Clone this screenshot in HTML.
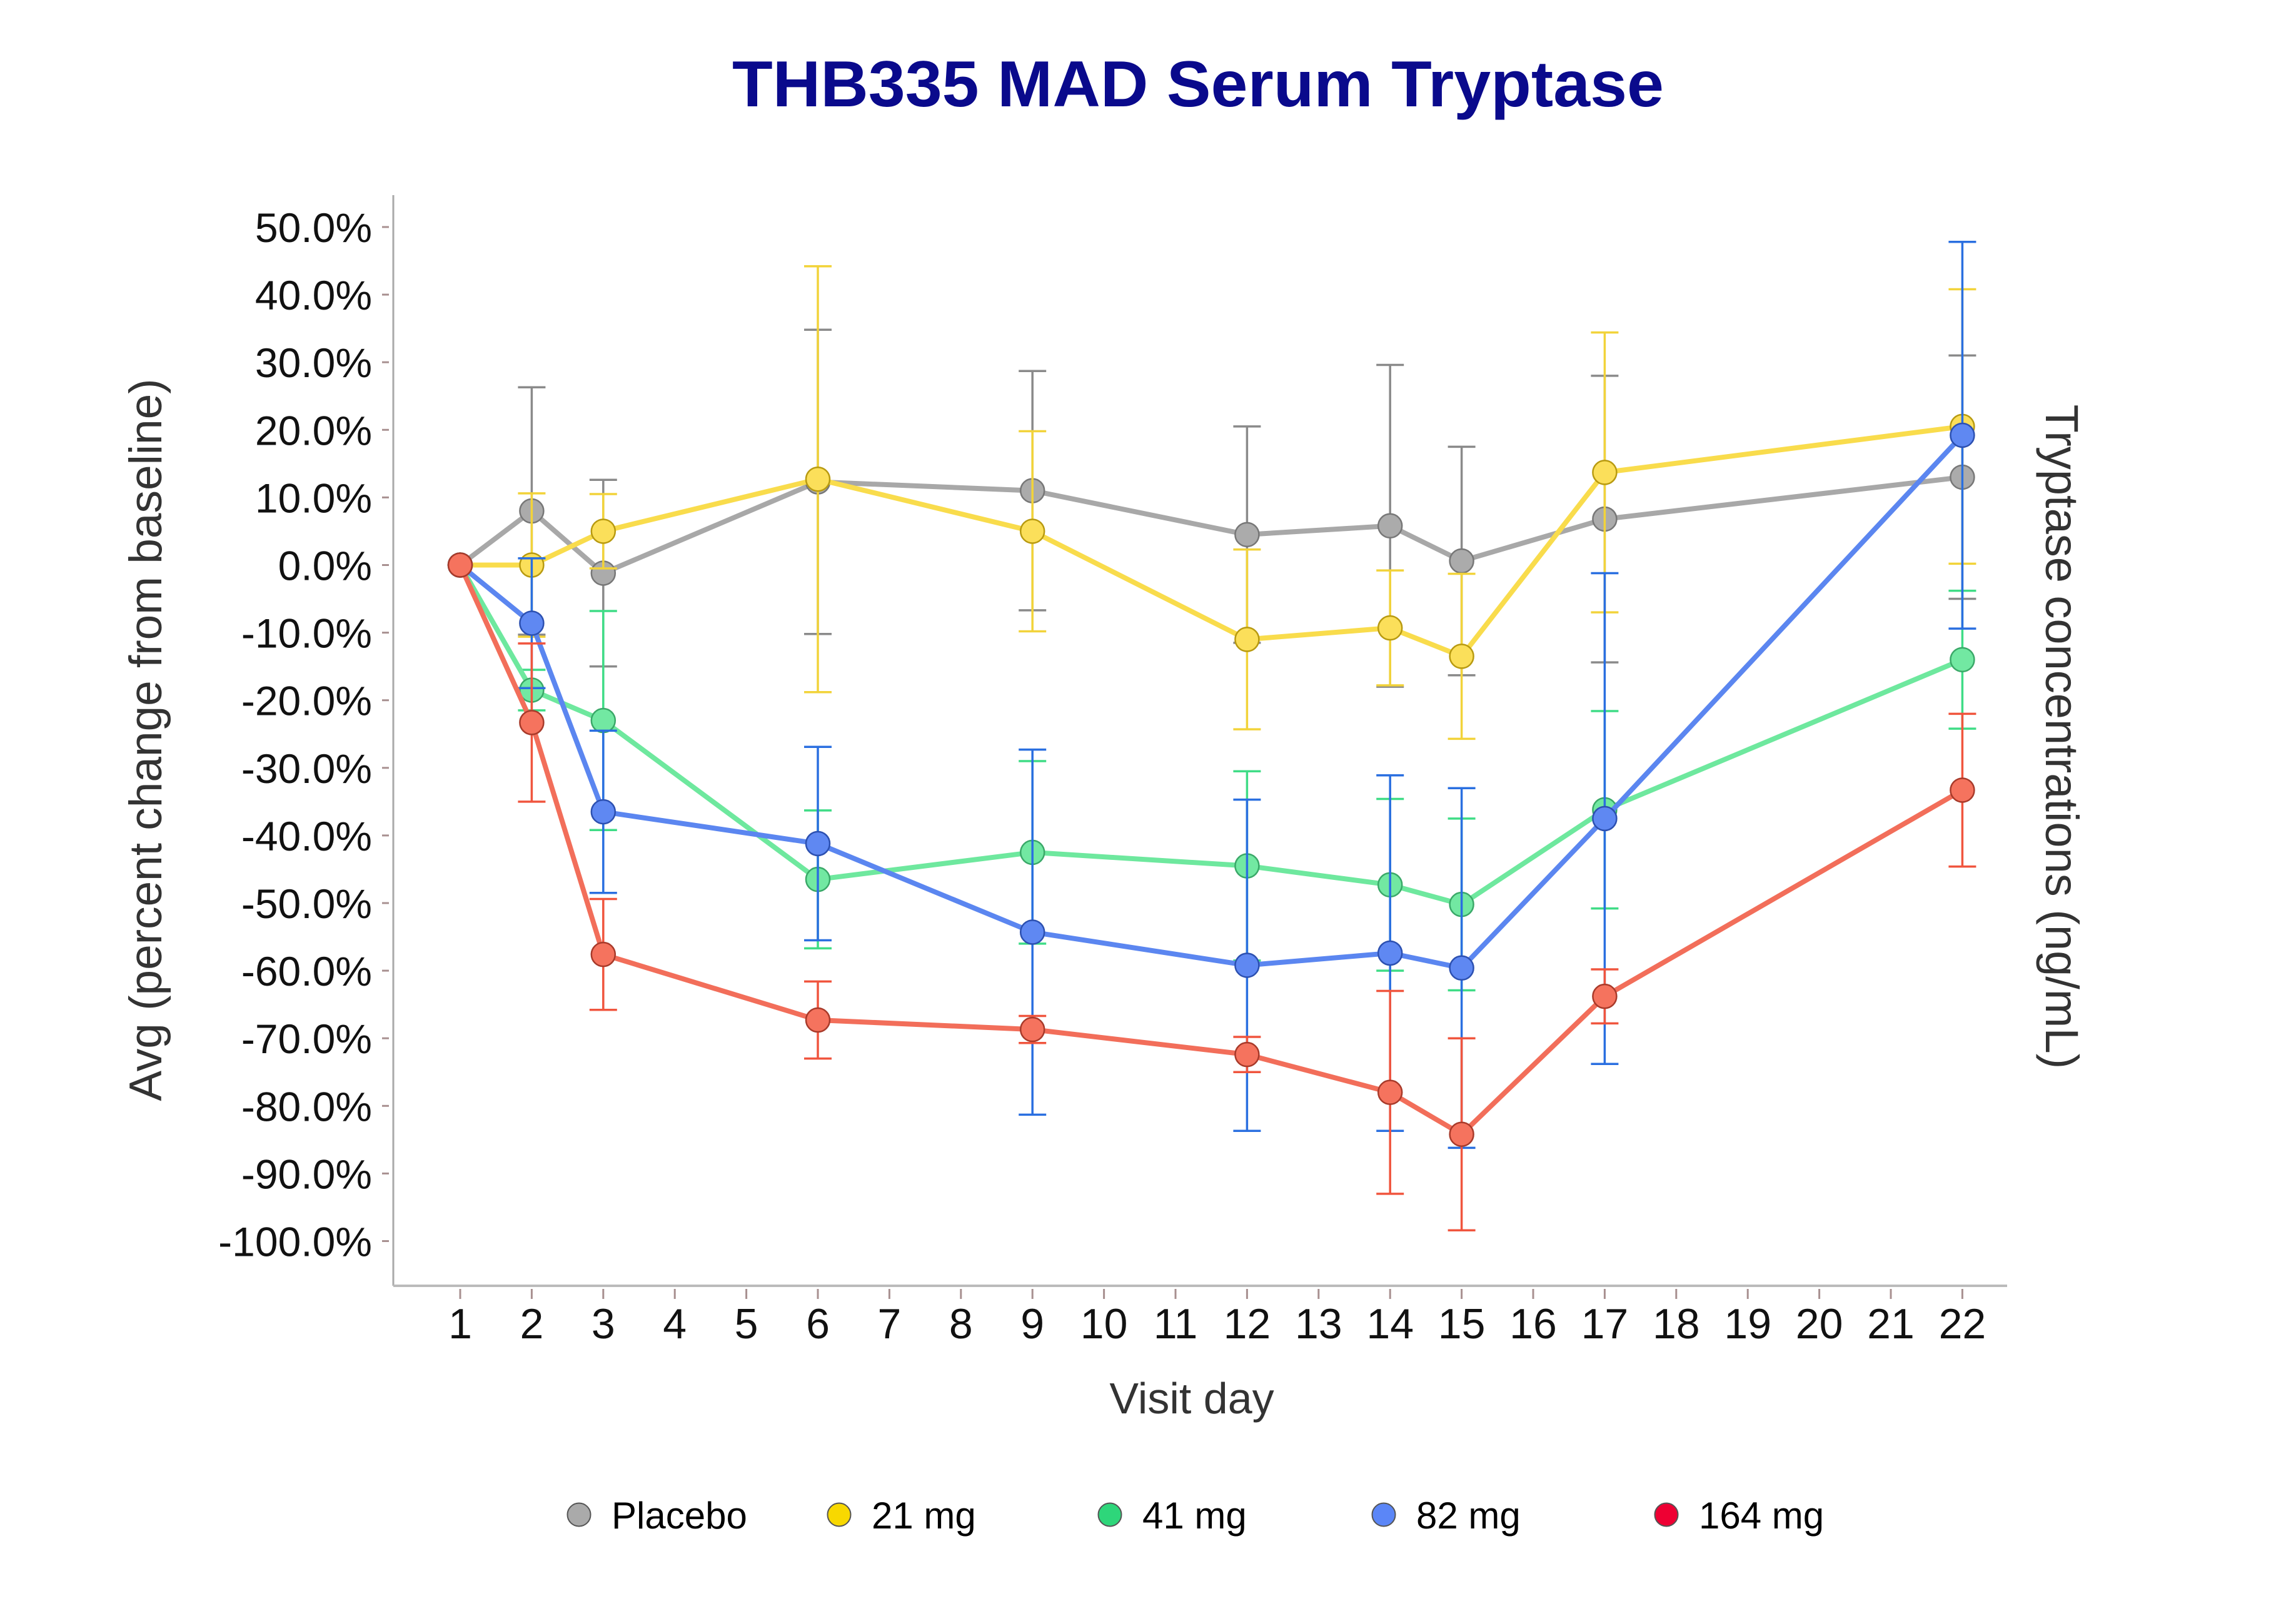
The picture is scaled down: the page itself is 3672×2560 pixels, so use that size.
<!DOCTYPE html>
<html><head><meta charset="utf-8"><style>
html,body{margin:0;padding:0;background:#fff;}
svg{display:block;}
text{font-family:"Liberation Sans",Arial,sans-serif;}
</style></head><body>
<svg id="chart" width="3672" height="2560" viewBox="0 0 3672 2560" xmlns="http://www.w3.org/2000/svg">
<text x="1916" y="170" text-anchor="middle" font-size="104" font-weight="bold" fill="#0a0a8c" textLength="1490" lengthAdjust="spacingAndGlyphs">THB335 MAD Serum Tryptase</text>
<text transform="translate(258,1183) rotate(-90)" text-anchor="middle" font-size="73" fill="#333">Avg (percent change from baseline)</text>
<text transform="translate(3272,1178) rotate(90)" text-anchor="middle" font-size="74" fill="#333">Tryptase concentrations (ng/mL)</text>
<text x="1906" y="2260" text-anchor="middle" font-size="70" fill="#333">Visit day</text>
<line x1="629" y1="312" x2="629" y2="2056" stroke="#aaa" stroke-width="3"/>
<line x1="629" y1="2056" x2="3210" y2="2056" stroke="#bbb" stroke-width="4"/>
<g id="yticks"></g><g id="xticks"></g><g id="series"></g><g id="legend"></g>
</svg>
<script>
const days = [1,2,3,6,9,12,14,15,17,22];
const xTicks = [1,2,3,4,5,6,7,8,9,10,11,12,13,14,15,16,17,18,19,20,21,22];
const yTicks = [50,40,30,20,10,0,-10,-20,-30,-40,-50,-60,-70,-80,-90,-100];
const seriesNames = ["Placebo","21 mg","41 mg","82 mg","164 mg"];
const placebo = [0,8,-1.2,12.3,11,4.5,5.8,0.6,6.8,13];
const placeboErr = [0,18.3,13.8,22.5,17.7,16,23.8,16.9,21.2,18];
const mg21 = [0,0,5,12.7,5,-11,-9.3,-13.5,13.7,20.5];
const mg21Err = [0,10.6,5.5,31.5,14.8,13.3,8.5,12.2,20.7,20.3];
const mg41 = [0,-18.5,-23,-46.5,-42.5,-44.5,-47.3,-50.2,-36.2,-14];
const mg41Err = [0,3,16.2,10.2,13.5,14,12.7,12.7,14.6,10.2];
const mg82 = [0,-8.6,-36.5,-41.2,-54.3,-59.2,-57.4,-59.6,-37.5,19.2];
const mg82Err = [0,9.6,12,14.3,27,24.5,26.3,26.6,36.3,28.6];
const mg164 = [0,-23.3,-57.6,-67.3,-68.7,-72.4,-78,-84.2,-63.8,-33.3];
const mg164Err = [0,11.7,8.2,5.7,2,2.6,15,14.2,4,11.3];

const NS="http://www.w3.org/2000/svg";
function xs(d){return 736+(d-1)*114.4;}
function ys(v){return 903.5-v*10.81;}
function mk(tag,attrs,parent){const e=document.createElementNS(NS,tag);for(const k in attrs)e.setAttribute(k,attrs[k]);parent.appendChild(e);return e;}

const yt=document.getElementById('yticks');
yTicks.forEach(v=>{
  const l=mk('line',{x1:611,x2:622,y1:ys(v),y2:ys(v),stroke:'#a89090','stroke-width':3},yt);
  
  
  const t=mk('text',{x:595,y:ys(v)+24,'text-anchor':'end','font-size':66,fill:'#111'},yt);
  t.textContent=v.toFixed(1)+'%';
  
  
});
const xt=document.getElementById('xticks');
xTicks.forEach(d=>{
  const l=mk('line',{x1:xs(d),x2:xs(d),y1:2061,y2:2077,stroke:'#a89090','stroke-width':3},xt);
  
  
  const t=mk('text',{x:xs(d),y:2140,'text-anchor':'middle','font-size':68,fill:'#111'},xt);
  t.textContent=d;
  
  
});

const sets=[
 {v:placebo,e:placeboErr,line:'#a8a8a8',fill:'#ababab',stroke:'#777',err:'#8a8a8a'},
 {v:mg21,e:mg21Err,line:'#f9dc4c',fill:'#fbdf5a',stroke:'#b89a10',err:'#f2d33a'},
 {v:mg41,e:mg41Err,line:'#6ee89e',fill:'#72e8a2',stroke:'#3aa868',err:'#3fdc86'},
 {v:mg82,e:mg82Err,line:'#5b86f0',fill:'#5f88f2',stroke:'#2c50b0',err:'#2a6fe0'},
 {v:mg164,e:mg164Err,line:'#f26e5a',fill:'#f5735e',stroke:'#a83a2a',err:'#f0553e'}
];
const sg=document.getElementById('series');
sets.forEach((s,i)=>{
  const g=mk('g',{},sg);
  
  
  days.forEach((d,j)=>{
    if(s.e[j]<=0)return;
    const x=xs(d),y1=ys(s.v[j]+s.e[j]),y2=ys(s.v[j]-s.e[j]);
    const b=mk('path',{d:`M${x},${y1}V${y2}M${x-22},${y1}H${x+22}M${x-22},${y2}H${x+22}`,stroke:s.err,'stroke-width':3.5,fill:'none'},g);
    
    
  });
  const p=mk('polyline',{points:days.map((d,j)=>xs(d)+','+ys(s.v[j])).join(' '),fill:'none',stroke:s.line,'stroke-width':8,'stroke-linejoin':'round'},g);
  
  
  days.forEach((d,j)=>{
    const c=mk('circle',{cx:xs(d),cy:ys(s.v[j]),r:19,fill:s.fill,stroke:s.stroke,'stroke-width':2.5},g);
    
    
  });
});

const legFill=['#aaaaaa','#f8d800','#2ed67a','#5b86f7','#ee0033'];
const legX=[926,1342,1775,2213,2665];
const lg=document.getElementById('legend');
seriesNames.forEach((n,i)=>{
  const g=mk('g',{},lg);
  
  
  mk('circle',{cx:legX[i],cy:2422,r:18.5,fill:legFill[i],stroke:'#555','stroke-width':2},g);
  const t=mk('text',{x:legX[i]+52,y:2444,'font-size':60,fill:'#000'},g);
  t.textContent=n;
});
</script>
</body></html>
